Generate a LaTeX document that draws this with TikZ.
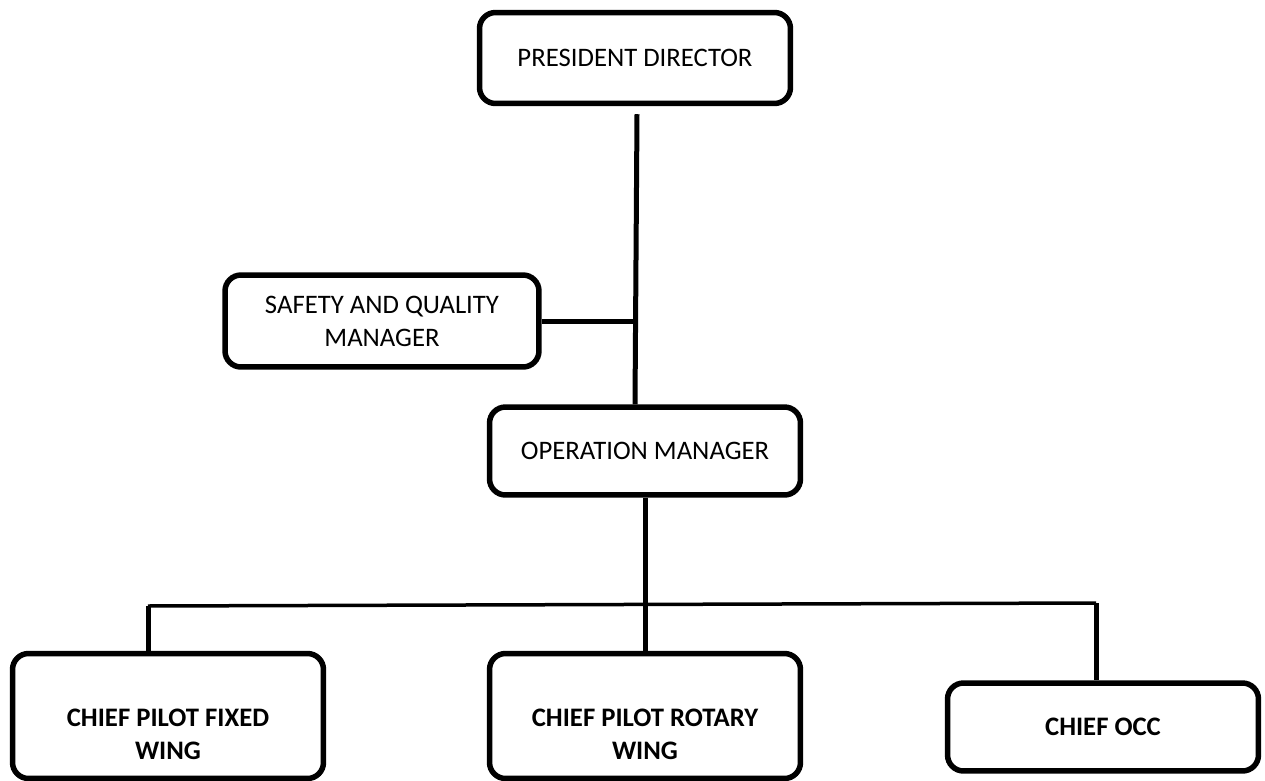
\documentclass[tikz,border=0pt]{standalone}
\usepackage{fontspec}
\setmainfont{Carlito}
\usetikzlibrary{positioning,calc}
\definecolor{ink}{RGB}{0,0,0}

\begin{document}
\begin{tikzpicture}[x=0.02cm,y=-0.02cm,
    post/.style={draw=ink,line width=0.11cm,rounded corners=0.32cm,minimum width=6.22cm,
      align=center,font=\fontsize{15.2}{18.7}\selectfont},
    postb/.style={post,font=\fontsize{15.2}{18.7}\selectfont\bfseries},
    txtb/.style={align=center,font=\fontsize{15.2}{18.7}\selectfont\bfseries,inner sep=0pt},
    link/.style={ink,line width=0.1cm},
    bus/.style={ink,line width=0.07cm}]
        \useasboundingbox (0,0) rectangle (1265,781);
        % top level
        \node[post,minimum height=1.82cm] (pd) at (635,58) {PRESIDENT DIRECTOR};
        \node[post,minimum height=1.84cm,minimum width=6.28cm] (sq) at (382,321) {SAFETY AND QUALITY\\MANAGER};
        \node[post,minimum height=1.76cm] (om) at (645,451) {OPERATION MANAGER};
        % bottom row
        \node[post,minimum height=2.5cm] (cpfw) at (168,716) {};
        \node[txtb] (cpfwt) at (168,734) {CHIEF PILOT FIXED\\WING};
        \node[post,minimum height=2.5cm] (cprw) at (645,716) {};
        \node[txtb] (cprwt) at (645,734) {CHIEF PILOT ROTARY\\WING};
        \node[postb,minimum height=1.76cm] (occ) at (1103,727) {CHIEF OCC};
        % connectors
        \draw[link] ($(pd.south)+(2,8)$) -- (pd.south |- om.north);
        \draw[link] (sq.east) -- (sq.east -| pd.south);
        \draw[link] (om.south) -- (cprw.north);
        \coordinate (busl) at (148,606);
        \coordinate (busr) at (1096,603);
        \draw[bus] (busl) -- (busr);
        \draw[link] (busl) -- (busl |- cpfw.north);
        \draw[link] (busr) -- (busr |- occ.north);
      \end{tikzpicture}
\end{document}
